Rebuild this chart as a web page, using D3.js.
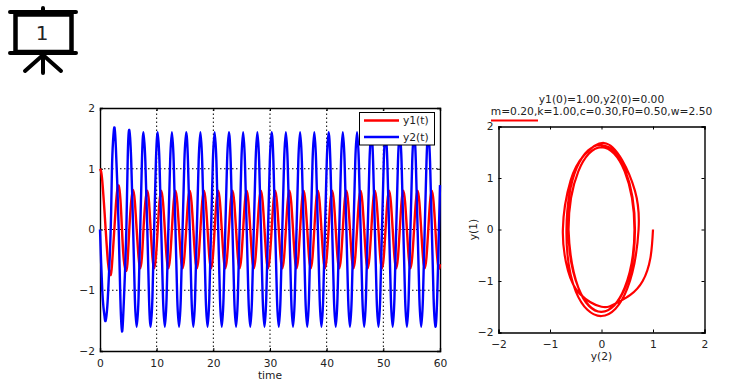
<!DOCTYPE html>
<html>
<head>
<meta charset="utf-8">
<style>
body { margin: 0; background: #fff; }
text { font-family: "DejaVu Sans", sans-serif; font-size: 10.7px; fill: #222; }
</style>
</head>
<body>
<svg id="container" width="744" height="384"></svg>

<script src="https://d3js.org/d3.v7.min.js"></script>
<script>

// values, one row is roughly one forcing cycle
let time = [
    0, 0.2, 0.4, 0.6, 0.8, 1.0, 1.3, 1.55,
    1.89, 2.1, 2.3, 2.56, 2.8, 3.05,
    3.3, 3.6, 3.88, 4.2,
    4.65, 4.9, 5.17, 5.5,
    5.85, 6.15, 6.47, 6.8,
    7.1, 7.4, 7.67, 8.0,
    8.35, 8.65, 8.94, 9.25,
    9.55, 9.87,
    10.18, 10.49, 10.81, 11.12, 11.44, 11.75, 12.06, 12.38,
    12.69, 13.0, 13.32, 13.63, 13.95, 14.26, 14.57, 14.89,
    15.21, 15.52, 15.84, 16.15, 16.47, 16.78, 17.09, 17.41,
    17.72, 18.03, 18.35, 18.66, 18.98, 19.29, 19.6, 19.92,
    20.23, 20.54, 20.86, 21.17, 21.49, 21.8, 22.11, 22.43,
    22.75, 23.06, 23.38, 23.69, 24.01, 24.32, 24.63, 24.95,
    25.26, 25.57, 25.89, 26.2, 26.52, 26.83, 27.14, 27.46,
    27.77, 28.08, 28.4, 28.71, 29.03, 29.34, 29.65, 29.97,
    30.29, 30.6, 30.92, 31.23, 31.55, 31.86, 32.17, 32.49,
    32.8, 33.11, 33.43, 33.74, 34.06, 34.37, 34.68, 35.0,
    35.31, 35.62, 35.94, 36.25, 36.57, 36.88, 37.19, 37.51,
    37.82, 38.13, 38.45, 38.76, 39.08, 39.39, 39.7, 40.02,
    40.34, 40.65, 40.97, 41.28, 41.6, 41.91, 42.22, 42.54,
    42.85, 43.16, 43.48, 43.79, 44.11, 44.42, 44.73, 45.05,
    45.36, 45.67, 45.99, 46.3, 46.62, 46.93, 47.24, 47.56,
    47.88, 48.19, 48.51, 48.82, 49.14, 49.45, 49.76, 50.08,
    50.39, 50.7, 51.02, 51.33, 51.65, 51.96, 52.27, 52.59,
    52.9, 53.21, 53.53, 53.84, 54.16, 54.47, 54.78, 55.1,
    55.42, 55.73, 56.05, 56.36, 56.68, 56.99, 57.3, 57.62,
    57.93, 58.24, 58.56, 58.87, 59.19, 59.5, 59.81, 60
]
let y1 = [
    1, 0.95, 0.8, 0.56, 0.29, 0, -0.42, -0.65,
    -0.75, -0.6, -0.33, 0.05, 0.4, 0.65,
    0.72, 0.5, 0, -0.5,
    -0.68, -0.48, 0, 0.46,
    0.65, 0.46, 0, -0.45,
    -0.64, -0.45, 0, 0.45,
    0.64, 0.45, 0, -0.45,
    -0.64, -0.45,
    0, 0.45, 0.64, 0.45, 0, -0.45, -0.64, -0.45,
    0, 0.45, 0.64, 0.45, 0, -0.45, -0.64, -0.45,
    0, 0.45, 0.64, 0.45, 0, -0.45, -0.64, -0.45,
    0, 0.45, 0.64, 0.45, 0, -0.45, -0.64, -0.45,
    0, 0.45, 0.64, 0.45, 0, -0.45, -0.64, -0.45,
    0, 0.45, 0.64, 0.45, 0, -0.45, -0.64, -0.45,
    0, 0.45, 0.64, 0.45, 0, -0.45, -0.64, -0.45,
    0, 0.45, 0.64, 0.45, 0, -0.45, -0.64, -0.45,
    0, 0.45, 0.64, 0.45, 0, -0.45, -0.64, -0.45,
    0, 0.45, 0.64, 0.45, 0, -0.45, -0.64, -0.45,
    0, 0.45, 0.64, 0.45, 0, -0.45, -0.64, -0.45,
    0, 0.45, 0.64, 0.45, 0, -0.45, -0.64, -0.45,
    0, 0.45, 0.64, 0.45, 0, -0.45, -0.64, -0.45,
    0, 0.45, 0.64, 0.45, 0, -0.45, -0.64, -0.45,
    0, 0.45, 0.64, 0.45, 0, -0.45, -0.64, -0.45,
    0, 0.45, 0.64, 0.45, 0, -0.45, -0.64, -0.45,
    0, 0.45, 0.64, 0.45, 0, -0.45, -0.64, -0.45,
    0, 0.45, 0.64, 0.45, 0, -0.45, -0.64, -0.45,
    0, 0.45, 0.64, 0.45, 0, -0.45, -0.64, -0.45,
    0, 0.45, 0.64, 0.45, 0, -0.45, -0.64, -0.57
]
let y2 = [
    0, -0.55, -1.0, -1.27, -1.43, -1.5, -1.25, -0.8,
    0, 0.95, 1.45, 1.68, 1.35, 0.75,
    0, -1.15, -1.68, -1.2,
    0, 1.2, 1.64, 1.15,
    0, -1.13, -1.6, -1.13,
    0, 1.13, 1.6, 1.13,
    0, -1.13, -1.6, -1.13,
    0, 1.13,
    1.6, 1.13, 0, -1.13, -1.6, -1.13, 0, 1.13,
    1.6, 1.13, 0, -1.13, -1.6, -1.13, 0, 1.13,
    1.6, 1.13, 0, -1.13, -1.6, -1.13, 0, 1.13,
    1.6, 1.13, 0, -1.13, -1.6, -1.13, 0, 1.13,
    1.6, 1.13, 0, -1.13, -1.6, -1.13, 0, 1.13,
    1.6, 1.13, 0, -1.13, -1.6, -1.13, 0, 1.13,
    1.6, 1.13, 0, -1.13, -1.6, -1.13, 0, 1.13,
    1.6, 1.13, 0, -1.13, -1.6, -1.13, 0, 1.13,
    1.6, 1.13, 0, -1.13, -1.6, -1.13, 0, 1.13,
    1.6, 1.13, 0, -1.13, -1.6, -1.13, 0, 1.13,
    1.6, 1.13, 0, -1.13, -1.6, -1.13, 0, 1.13,
    1.6, 1.13, 0, -1.13, -1.6, -1.13, 0, 1.13,
    1.6, 1.13, 0, -1.13, -1.6, -1.13, 0, 1.13,
    1.6, 1.13, 0, -1.13, -1.6, -1.13, 0, 1.13,
    1.6, 1.13, 0, -1.13, -1.6, -1.13, 0, 1.13,
    1.6, 1.13, 0, -1.13, -1.6, -1.13, 0, 1.13,
    1.6, 1.13, 0, -1.13, -1.6, -1.13, 0, 1.13,
    1.6, 1.13, 0, -1.13, -1.6, -1.13, 0, 1.13,
    1.6, 1.13, 0, -1.13, -1.6, -1.13, 0, 1.13,
    1.6, 1.13, 0, -1.13, -1.6, -1.13, 0, 0.73
]
let timeTicks = [0, 10, 20, 30, 40, 50, 60]
let levelTicks = [-2, -1, 0, 1, 2]
let legendLabels = ["y1(t)", "y2(t)"]
let seriesColors = ["#ff0000", "#0000ff"]
let titleLines = ["y1(0)=1.00,y2(0)=0.00", "m=0.20,k=1.00,c=0.30,F0=0.50,w=2.50"]

let svg = d3.select("#container")

// same look on both panels: ticks point inwards, on all four sides
function frame(x, y, xTicks, yTicks, grid) {
    let g = svg.append("g")
    let [x0, x1] = x.range()
    let [y0, y1] = y.range()
    let fmt = d3.format("d")

    if (grid) {
        g.selectAll(".vgrid").data(xTicks.slice(1, -1)).enter().append("line")
            .attr("x1", d => x(d)).attr("x2", d => x(d))
            .attr("y1", y0).attr("y2", y1)
            .attr("stroke", "#000").attr("stroke-dasharray", "1.5,2.5")
        g.selectAll(".hgrid").data(yTicks.slice(1, -1)).enter().append("line")
            .attr("x1", x0).attr("x2", x1)
            .attr("y1", d => y(d)).attr("y2", d => y(d))
            .attr("stroke", "#000").attr("stroke-dasharray", "1.5,2.5")
    }

    let axes = [
        [d3.axisBottom(x).tickValues(xTicks).tickSize(-3).tickPadding(8).tickFormat(fmt), 0, y0],
        [d3.axisTop(x).tickValues(xTicks).tickSize(-3).tickFormat(""), 0, y1],
        [d3.axisLeft(y).tickValues(yTicks).tickSize(-3).tickPadding(5).tickFormat(fmt), x0, 0],
        [d3.axisRight(y).tickValues(yTicks).tickSize(-3).tickFormat(""), x1, 0]
    ]
    axes.forEach(([axis, dx, dy]) => {
        let a = g.append("g").attr("transform", `translate(${dx},${dy})`).call(axis)
        a.attr("font-family", null).attr("font-size", null)
        a.selectAll("path").attr("stroke", "#000").attr("stroke-width", 1.4)
        a.selectAll("line").attr("stroke", "#000")
    })
}

// left panel, both series against time
let xTime = d3.scaleLinear().domain([0, 60]).range([100, 440])
let yTime = d3.scaleLinear().domain([-2, 2]).range([351, 108])

frame(xTime, yTime, timeTicks, levelTicks, true)

let series = [y1, y2]
series.forEach((values, i) => {
    let line = d3.line()
        .x((d, j) => xTime(time[j]))
        .y(d => yTime(d))
        .curve(d3.curveNatural)
    svg.append("path")
        .attr("d", line(values))
        .attr("fill", "none")
        .attr("stroke", seriesColors[i])
        .attr("stroke-width", 2.4)
})

svg.append("text").attr("x", 270).attr("y", 379).attr("text-anchor", "middle").text("time")

let legend = svg.append("g")
legend.append("rect")
    .attr("x", 359.5).attr("y", 112.5).attr("width", 75).attr("height", 32.5)
    .attr("fill", "#fff").attr("stroke", "#000")
legendLabels.forEach((label, i) => {
    let ly = 120.5 + i * 16.5
    legend.append("line")
        .attr("x1", 364).attr("x2", 399).attr("y1", ly).attr("y2", ly)
        .attr("stroke", seriesColors[i]).attr("stroke-width", 2.5)
    legend.append("text").attr("x", 403).attr("y", ly + 3.5).text(label)
})

// right panel, phase portrait
let xPhase = d3.scaleLinear().domain([-2, 2]).range([498.5, 704.5])
let yPhase = d3.scaleLinear().domain([-2, 2]).range([332.5, 126.5])

frame(xPhase, yPhase, levelTicks, levelTicks, false)

let phase = d3.line()
    .x((d, j) => xPhase(y1[j]))
    .y(d => yPhase(d))
    .curve(d3.curveNatural)

svg.append("path")
    .attr("d", phase(y2))
    .attr("fill", "none")
    .attr("stroke", seriesColors[0])
    .attr("stroke-width", 2.2)

titleLines.forEach((t, i) => {
    svg.append("text").attr("x", 601.5).attr("y", 103 + i * 12)
        .attr("text-anchor", "middle").text(t)
})
svg.append("line")
    .attr("x1", 491).attr("x2", 538).attr("y1", 120.5).attr("y2", 120.5)
    .attr("stroke", seriesColors[0]).attr("stroke-width", 2)

svg.append("text").attr("x", 601.5).attr("y", 360).attr("text-anchor", "middle").text("y(2)")
svg.append("text").attr("transform", "translate(477,229.5) rotate(-90)")
    .attr("text-anchor", "middle").text("y(1)")

// slide number icon
let icon = svg.append("g").attr("stroke", "#000").attr("stroke-linecap", "round").attr("fill", "none")
icon.append("rect").attr("x", 15.5).attr("y", 14.5).attr("width", 56).attr("height", 37.5).attr("stroke-width", 4.5)
icon.append("path").attr("stroke-width", 4).attr("d", "M10,12H76M10,53H76M43,8V12")
icon.append("path").attr("stroke-width", 4).attr("d", "M43,53V73M43,55L25,71M43,55L61,71")
svg.append("text").attr("x", 42).attr("y", 40)
    .attr("text-anchor", "middle")
    .style("font-size", "20px")
    .text("1")

</script>
</body>
</html>
